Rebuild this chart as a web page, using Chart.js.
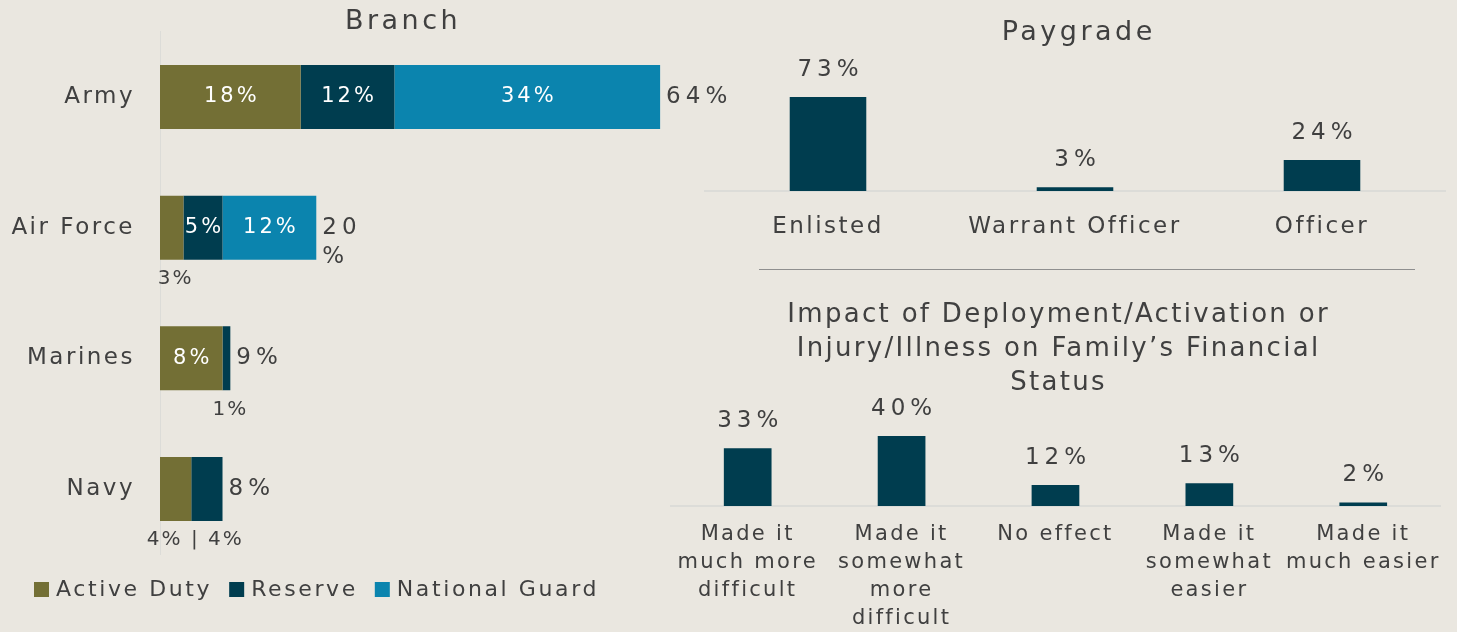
<!DOCTYPE html>
<html>
<head>
<meta charset="utf-8">
<script src="https://cdn.jsdelivr.net/npm/chart.js@4.4.1/dist/chart.umd.min.js"></script>
<style>
  html, body { margin: 0; padding: 0; background: #EAE7E0; }
  body { width: 1457px; height: 632px; position: relative; overflow: hidden; }
  .box { position: absolute; }
  #branchBox { left: 0; top: 0; width: 745px; height: 632px; }
  #payBox { left: 680px; top: 0; width: 777px; height: 250px; }
  #impactBox { left: 660px; top: 280px; width: 797px; height: 352px; }
  #rule { position: absolute; left: 759px; top: 269px; width: 656px; height: 0; border-top: 1px solid #8f8f8f; }
</style>
</head>
<body>
<div class="box" id="branchBox"><canvas id="branchChart"></canvas></div>
<div class="box" id="payBox"><canvas id="payChart"></canvas></div>
<div id="rule"></div>
<div class="box" id="impactBox"><canvas id="impactChart"></canvas></div>

<script>
// ---------------- Data ----------------
const branchCategories = ["Army", "Air Force", "Marines", "Navy"];
const activeDuty = [18, 3, 8, 4];
const reserve = [12, 5, 1, 4];
const nationalGuard = [34, 12, 0, 0];
const branchTotals = ["64%", ["20", "%"], "9%", "8%"];

const payCategories = ["Enlisted", "Warrant Officer", "Officer"];
const payValues = [73, 3, 24];

const impactCategories = [
  ["Made it", "much more", "difficult"],
  ["Made it", "somewhat", "more", "difficult"],
  ["No effect"],
  ["Made it", "somewhat", "easier"],
  ["Made it", "much easier"],
];
const impactValues = [33, 40, 12, 13, 2];

// ---------------- Style ----------------
const FONT = "'DejaVu Sans', sans-serif";
const TEXT = "#404040";
const OLIVE = "#736F35";
const TEAL = "#003D4F";
const BLUE = "#0B84AE";
const AXIS = "#DCDCD8";

Chart.defaults.font.family = FONT;
Chart.defaults.color = TEXT;
Chart.defaults.animation = false;
Chart.defaults.responsive = true;
Chart.defaults.maintainAspectRatio = false;
Chart.defaults.plugins.legend.display = false;
Chart.defaults.plugins.tooltip.enabled = false;

// canvas letter spacing for tick labels (reset whenever canvas is resized)
const spacingPlugin = {
  id: "spacing",
  beforeLayout(chart, args, opts) { chart.ctx.letterSpacing = opts.value || "0px"; },
  beforeDraw(chart, args, opts) { chart.ctx.letterSpacing = opts.value || "0px"; },
};
Chart.register(spacingPlugin);

function setText(ctx, size, spacing) {
  ctx.font = size + "px " + FONT;
  ctx.letterSpacing = spacing + "px";
}

// ----------------------Branch-----------------------
const branchDecor = {
  id: "branchDecor",
  afterDatasetsDraw(chart) {
    const ctx = chart.ctx;
    ctx.save();
    ctx.textBaseline = "middle";
    for (let i = 0; i < chart.data.labels.length; i++) {
      const below = [];
      let last = null;
      chart.data.datasets.forEach((ds, d) => {
        const v = ds.data[i];
        if (!v) return;
        const bar = chart.getDatasetMeta(d).data[i];
        last = bar;
        const w = bar.x - bar.base;
        if (w >= 35) {
          ctx.fillStyle = "#FFFFFF";
          setText(ctx, 21, 3);
          ctx.textAlign = "center";
          ctx.fillText(v + "%", (bar.x + bar.base) / 2 + 1.5, bar.y);
        } else {
          below.push({ text: v + "%", l: bar.base, r: bar.x, b: bar.y + bar.height / 2 });
        }
      });
      ctx.fillStyle = TEXT;
      if (below.length) {
        setText(ctx, 20, 2);
        ctx.textAlign = "center";
        const txt = below.map((b) => b.text).join(" | ");
        const x = (below[0].l + below[below.length - 1].r) / 2 + 4;
        ctx.fillText(txt, x, below[0].b + 19);
      }
      if (last) {
        setText(ctx, 23, 5);
        ctx.textAlign = "left";
        const t = branchTotals[i];
        const lines = Array.isArray(t) ? t : [t];
        lines.forEach((ln, k) => ctx.fillText(ln, last.x + 6, last.y + k * 29));
      }
    }
    ctx.restore();
  },
  afterDraw(chart) {
    const ctx = chart.ctx;
    ctx.save();
    ctx.fillStyle = TEXT;
    ctx.textBaseline = "middle";
    ctx.textAlign = "center";
    setText(ctx, 27, 3.5);
    ctx.fillText("Branch", 403, 22);
    // legend
    setText(ctx, 22, 2.6);
    ctx.textAlign = "left";
    let x = 34;
    chart.data.datasets.forEach((ds) => {
      ctx.fillStyle = ds.backgroundColor;
      ctx.fillRect(x, 582, 15, 15);
      ctx.fillStyle = TEXT;
      ctx.fillText(ds.label, x + 22, 590);
      x += 22 + ctx.measureText(ds.label).width + 17;
    });
    ctx.restore();
  },
};

new Chart("branchChart", {
  type: "bar",
  data: {
    labels: branchCategories,
    datasets: [
      { label: "Active Duty", data: activeDuty, backgroundColor: OLIVE },
      { label: "Reserve", data: reserve, backgroundColor: TEAL },
      { label: "National Guard", data: nationalGuard, backgroundColor: BLUE },
    ],
  },
  options: {
    indexAxis: "y",
    layout: { padding: { top: 31.7, bottom: 77.7, left: 0, right: 38 } },
    datasets: { bar: { categoryPercentage: 1, barPercentage: 0.49 } },
    plugins: { spacing: { value: "2.5px" } },
    scales: {
      x: { stacked: true, display: false, min: 0, max: 70 },
      y: {
        stacked: true,
        afterFit(axis) {
          axis.width = 160;
          axis.paddingTop = 0;
          axis.paddingBottom = 0;
        },
        grid: { display: false, drawTicks: false },
        border: { display: true, color: AXIS, width: 1 },
        ticks: { font: { size: 23 }, padding: 25, color: TEXT },
      },
    },
  },
  plugins: [branchDecor],
});

// ----------------------Column charts-----------------------
function columnDecor(title, titleTop, titleGap, titleSize, titleSpacing) {
  return {
    id: "columnDecor",
    afterDatasetsDraw(chart) {
      const ctx = chart.ctx;
      ctx.save();
      ctx.fillStyle = TEXT;
      ctx.textBaseline = "middle";
      ctx.textAlign = "center";
      setText(ctx, 23, 5);
      const ds = chart.data.datasets[0];
      chart.getDatasetMeta(0).data.forEach((bar, i) => {
        ctx.fillText(ds.data[i] + "%", bar.x + 2.5, bar.y - 27);
      });
      setText(ctx, titleSize, titleSpacing);
      const cx = (chart.chartArea.left + chart.chartArea.right) / 2 + titleSpacing / 2 + 2;
      title.forEach((ln, k) => ctx.fillText(ln, cx, titleTop + k * titleGap));
      ctx.restore();
    },
  };
}

function columnOptions(pad, axisHeight, yMax, tickSize, tickPad, lineHeight, spacing) {
  return {
    layout: { padding: pad },
    datasets: { bar: { categoryPercentage: 1, barPercentage: 0.31 } },
    plugins: { spacing: { value: spacing } },
    scales: {
      y: { display: false, min: 0, max: yMax },
      x: {
        afterFit(axis) { axis.height = axisHeight; },
        grid: { display: false, drawTicks: false },
        border: { display: true, color: AXIS, width: 2 },
        ticks: { font: { size: tickSize, lineHeight: lineHeight }, padding: tickPad, color: TEXT, maxRotation: 0, autoSkip: false },
      },
    },
  };
}

// Paygrade
new Chart("payChart", {
  type: "bar",
  data: {
    labels: payCategories,
    datasets: [{ data: payValues, backgroundColor: TEAL }],
  },
  options: columnOptions({ top: 62.2, bottom: 9, left: 24.5, right: 11.5 }, 50, 100, 23, 22, 1.2, "2.5px"),
  plugins: [columnDecor(["Paygrade"], 33, 0, 27, 3.5)],
});

// Impact
new Chart("impactChart", {
  type: "bar",
  data: {
    labels: impactCategories,
    datasets: [{ data: impactValues, backgroundColor: TEAL }],
  },
  options: columnOptions({ top: 121, bottom: 6, left: 10.75, right: 14 }, 120, 60, 21, 15, 1.33, "2.3px"),
  plugins: [
    columnDecor(
      ["Impact of Deployment/Activation or", "Injury/Illness on Family\u2019s Financial", "Status"],
      35,
      34,
      26,
      2.3
    ),
  ],
});
</script>
</body>
</html>
